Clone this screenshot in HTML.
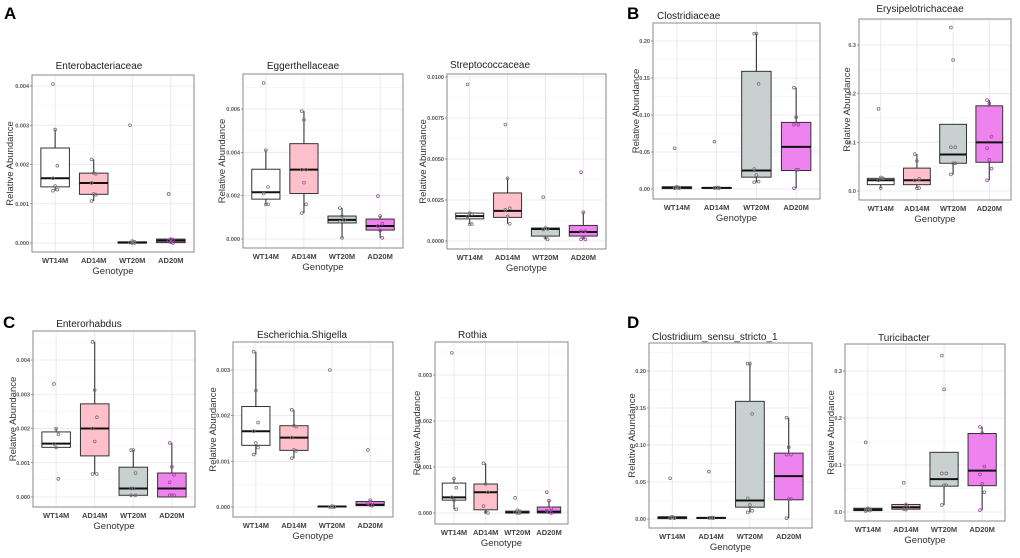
<!DOCTYPE html>
<html><head><meta charset="utf-8">
<style>
html,body{margin:0;padding:0;background:#fff;}
svg{display:block;font-family:"Liberation Sans",Arial,sans-serif;}
</style></head>
<body>
<svg id="fig" width="1020" height="558" viewBox="0 0 1020 558" xmlns="http://www.w3.org/2000/svg">
<text x="4" y="19" font-size="17" font-weight="bold">A</text>
<text x="627" y="19" font-size="17" font-weight="bold">B</text>
<text x="3" y="328" font-size="17" font-weight="bold">C</text>
<text x="627" y="328" font-size="17" font-weight="bold">D</text>
</svg>
<script>
const categories = ["WT14M","AD14M","WT20M","AD20M"];
const fills = ["#ffffff","#ffc0cb","#c9d1d0","#ee82ee"];

// each box: [lowWhisker, q1, median, q3, highWhisker]
const enteroBox = [[0.00133,0.00143,0.00165,0.00242,0.00289],[0.00107,0.00124,0.00153,0.00178,0.00213],[0,0,0.00001,0.00003,0.00006],[0,0.00001,0.00006,0.0001,0.0001]];
const enteroPts = [[0.00405,0.00289,0.00197,0.00165,0.00145,0.00136,0.00133],[0.00213,0.00178,0.00176,0.00153,0.00125,0.00123,0.00107],[0.003,0.00005,0.00003,0.00001,0,0],[0.00125,0.0001,0.00008,0.00006,0.00002,0]];
const enteroTicks = ["0.000","0.001","0.002","0.003","0.004"];
const enteroTickVals = [0,0.001,0.002,0.003,0.004];

const eggerBox = [[0.0016,0.00184,0.00216,0.00322,0.0041],[0.0012,0.0021,0.0032,0.0044,0.0059],[0.00005,0.00074,0.00088,0.00106,0.00143],[0.00005,0.00041,0.0006,0.00092,0.00106]];
const eggerPts = [[0.0072,0.0041,0.0024,0.0021,0.0016,0.0016],[0.0059,0.0055,0.0032,0.0032,0.0026,0.0016,0.0012],[0.00143,0.00106,0.00088,0.0008,0.00005],[0.00198,0.00106,0.0007,0.0006,0.0004,0.00005]];
const eggerTicks = ["0.000","0.002","0.004","0.006"];
const eggerTickVals = [0,0.002,0.004,0.006];

const streptoBox = [[0.00103,0.00135,0.00152,0.0017,0.0017],[0.00105,0.00144,0.00184,0.00293,0.00382],[0.0001,0.0003,0.00073,0.00079,0.00079],[0.0001,0.0003,0.00055,0.00095,0.00175]];
const streptoPts = [[0.00955,0.0017,0.00165,0.0015,0.00103,0.00103],[0.0071,0.00382,0.002,0.0019,0.0015,0.00105],[0.00267,0.00079,0.00075,0.0007,0.0002,0.0001],[0.0042,0.00175,0.0006,0.0006,0.0002,0.0001,0.0001]];
const streptoTicks = ["0.0000","0.0025","0.0050","0.0075","0.0100"];
const streptoTickVals = [0,0.0025,0.005,0.0075,0.01];

const clostBox = [[0,0.0005,0.002,0.003,0.003],[0.001,0.0012,0.0015,0.002,0.002],[0.009,0.016,0.025,0.159,0.21],[0.001,0.025,0.057,0.09,0.137]];
const clostPts = [[0.055,0.003,0.002,0.002,0.002,0.001,0.001],[0.064,0.002,0.002,0.0015,0.0015,0.001],[0.21,0.21,0.142,0.027,0.019,0.01,0.009],[0.137,0.097,0.087,0.087,0.026,0.026,0.001]];
const clostTicks = ["0.00","0.05","0.10","0.15","0.20"];
const clostTickVals = [0,0.05,0.1,0.15,0.2];

const erysBox = [[0.006,0.013,0.022,0.026,0.028],[0.006,0.013,0.022,0.047,0.076],[0.034,0.057,0.075,0.137,0.137],[0.022,0.059,0.1,0.175,0.187]];
const erysPts = [[0.169,0.028,0.026,0.022,0.006],[0.076,0.062,0.025,0.022,0.006,0.006],[0.336,0.269,0.09,0.09,0.057,0.057,0.034],[0.187,0.18,0.112,0.088,0.064,0.046,0.022]];
const erysTicks = ["0.0","0.1","0.2","0.3"];
const erysTickVals = [0,0.1,0.2,0.3];

const rhabBox = [[0.00145,0.00145,0.00156,0.0019,0.002],[0.00067,0.0012,0.002,0.00272,0.00453],[0.00003,0.00005,0.00025,0.00087,0.00137],[0,0,0.00025,0.0007,0.00158]];
const rhabPts = [[0.0033,0.002,0.00183,0.00155,0.00145,0.00053],[0.00453,0.00312,0.00233,0.002,0.00162,0.00067,0.00067],[0.00137,0.00137,0.0007,0.00025,0.00025,0.00005,0.00005],[0.00158,0.00088,0.00065,0.00043,0.00005,0.00005,0.00005]];
const rhabTicks = ["0.000","0.001","0.002","0.003","0.004"];
const rhabTickVals = [0,0.001,0.002,0.003,0.004];

const eschBox = [[0.00115,0.00135,0.00166,0.0022,0.0034],[0.00107,0.00124,0.00152,0.00178,0.00213],[0,0,0.00001,0.00002,0.00003],[0,0.00003,0.00005,0.00012,0.00015]];
const eschPts = [[0.0034,0.00255,0.00185,0.00166,0.0014,0.0013,0.00115],[0.00213,0.00178,0.00176,0.00152,0.00125,0.00123,0.00107],[0.003,0.00002,0.00001,0,0,0],[0.00125,0.00015,0.0001,0.00008,0.00005,0.00003]];
const eschTicks = ["0.000","0.001","0.002","0.003"];
const eschTickVals = [0,0.001,0.002,0.003];

const rothBox = [[0.00008,0.00028,0.00034,0.00065,0.00075],[0,0.00007,0.00045,0.00063,0.00108],[0,0,0.00001,0.00004,0.00006],[0,0,0.00003,0.00013,0.00027]];
const rothPts = [[0.00348,0.00075,0.00055,0.00034,0.00028,0.00008],[0.00108,0.00063,0.00045,0.00015,0.00002,0],[0.00033,0.00006,0.00004,0.00002,0,0],[0.00045,0.00027,0.0001,0.00005,0.00002,0]];
const rothTicks = ["0.000","0.001","0.002","0.003"];
const rothTickVals = [0,0.001,0.002,0.003];

const csBox = [[0,0.0005,0.002,0.003,0.003],[0.001,0.0012,0.0015,0.002,0.002],[0.009,0.016,0.025,0.159,0.21],[0.001,0.026,0.058,0.089,0.137]];
const csPts = [[0.055,0.003,0.002,0.002,0.002,0.001,0.001],[0.064,0.002,0.002,0.0015,0.0015,0.001],[0.21,0.21,0.142,0.028,0.019,0.011,0.009],[0.137,0.097,0.087,0.087,0.027,0.027,0.001]];
const csTicks = ["0.00","0.05","0.10","0.15","0.20"];
const csTickVals = [0,0.05,0.1,0.15,0.2];

const turiBox = [[0.002,0.003,0.005,0.008,0.008],[0.005,0.006,0.01,0.016,0.016],[0.015,0.055,0.07,0.127,0.127],[0.004,0.056,0.088,0.167,0.181]];
const turiPts = [[0.148,0.008,0.006,0.005,0.004,0.003,0.002],[0.062,0.016,0.01,0.006,0.005],[0.333,0.261,0.082,0.082,0.057,0.057,0.015],[0.181,0.168,0.097,0.08,0.06,0.042,0.004]];
const turiTicks = ["0.0","0.1","0.2","0.3"];
const turiTickVals = [0,0.1,0.2,0.3];

const plots = [
 {name:"enterobacteriaceae",title:"Enterobacteriaceae",box:enteroBox,pts:enteroPts,ticks:enteroTicks,tv:enteroTickVals,L:32,T:75,R:194,B:252,zp:243,rv:0.004,rp:86,tx:99,ty:69,ta:"middle",yl:10},
 {name:"eggerthellaceae",title:"Eggerthellaceae",box:eggerBox,pts:eggerPts,ticks:eggerTicks,tv:eggerTickVals,L:243,T:74,R:403,B:248,zp:239,rv:0.006,rp:109,tx:303,ty:69,ta:"middle",yl:222},
 {name:"streptococcaceae",title:"Streptococcaceae",box:streptoBox,pts:streptoPts,ticks:streptoTicks,tv:streptoTickVals,L:447,T:74,R:606,B:249,zp:241,rv:0.01,rp:77,tx:450,ty:68,ta:"start",yl:423},
 {name:"clostridiaceae",title:"Clostridiaceae",box:clostBox,pts:clostPts,ticks:clostTicks,tv:clostTickVals,L:653,T:23,R:820,B:199,zp:189,rv:0.2,rp:41,tx:657,ty:19,ta:"start",yl:636},
 {name:"erysipelotrichaceae",title:"Erysipelotrichaceae",box:erysBox,pts:erysPts,ticks:erysTicks,tv:erysTickVals,L:859,T:19,R:1011,B:200,zp:191,rv:0.3,rp:45,tx:920,ty:12,ta:"middle",yl:847},
 {name:"enterorhabdus",title:"Enterorhabdus",box:rhabBox,pts:rhabPts,ticks:rhabTicks,tv:rhabTickVals,L:33,T:331,R:195,B:507,zp:497,rv:0.004,rp:360,tx:89,ty:327,ta:"middle",yl:13},
 {name:"escherichia-shigella",title:"Escherichia.Shigella",box:eschBox,pts:eschPts,ticks:eschTicks,tv:eschTickVals,L:233,T:342,R:393,B:517,zp:507,rv:0.003,rp:370,tx:257,ty:338,ta:"start",yl:213},
 {name:"rothia",title:"Rothia",box:rothBox,pts:rothPts,ticks:rothTicks,tv:rothTickVals,L:435,T:342,R:568,B:524,zp:513,rv:0.003,rp:375,tx:458,ty:338,ta:"start",yl:417},
 {name:"clostridium-sensu-stricto-1",title:"Clostridium_sensu_stricto_1",box:csBox,pts:csPts,ticks:csTicks,tv:csTickVals,L:649,T:343,R:812,B:528,zp:519,rv:0.2,rp:371,tx:652,ty:340,ta:"start",yl:632},
 {name:"turicibacter",title:"Turicibacter",box:turiBox,pts:turiPts,ticks:turiTicks,tv:turiTickVals,L:845,T:344,R:1005,B:521,zp:512,rv:0.3,rp:371,tx:878,ty:341,ta:"start",yl:831}
];

const NS="http://www.w3.org/2000/svg";
const svg=document.getElementById("fig");
function mk(tag,attrs,parent){const e=document.createElementNS(NS,tag);for(const k in attrs)e.setAttribute(k,attrs[k]);(parent||svg).appendChild(e);return e;}

plots.forEach(p=>{
  const g=mk("g",{});
  
  
  const y=v=>p.zp-(v/p.rv)*(p.zp-p.rp);
  const unit=(p.R-p.L)/4.2;
  const x=i=>p.L+(0.6+i)*unit;
  // grid
  for(let i=0;i<p.tv.length;i++){
    const gy=y(p.tv[i]);
    const gl=mk("line",{x1:p.L,x2:p.R,y1:gy,y2:gy,stroke:"#e6e6e6","stroke-width":0.8},g);
    
    
    if(i<p.tv.length-1){const my=y((p.tv[i]+p.tv[i+1])/2);mk("line",{x1:p.L,x2:p.R,y1:my,y2:my,stroke:"#f2f2f2","stroke-width":0.6},g);}
    const hy=y(p.tv[p.tv.length-1]+(p.tv[1]-p.tv[0])/2);
    if(i==p.tv.length-1 && hy>p.T) mk("line",{x1:p.L,x2:p.R,y1:hy,y2:hy,stroke:"#f2f2f2","stroke-width":0.6},g);
    const t=mk("text",{x:p.L-3,y:gy+2,"font-size":5.5,"text-anchor":"end",fill:"#555","font-weight":"bold"},g);
    t.textContent=p.ticks[i];
    
    
    mk("line",{x1:p.L-2,x2:p.L,y1:gy,y2:gy,stroke:"#555","stroke-width":0.6},g);
  }
  categories.forEach((c,i)=>{mk("line",{x1:x(i),x2:x(i),y1:p.T,y2:p.B,stroke:"#e6e6e6","stroke-width":0.8},g);});
  // boxes
  categories.forEach((c,i)=>{
    const b=p.box[i],cx=x(i),hw=unit*0.37;
    const bg=mk("g",{},g);
    
    
    mk("line",{x1:cx,x2:cx,y1:y(b[0]),y2:y(b[1]),stroke:"#333","stroke-width":1.1},bg);
    mk("line",{x1:cx,x2:cx,y1:y(b[3]),y2:y(b[4]),stroke:"#333","stroke-width":1.1},bg);
    const top=y(b[3]),bot=y(b[1]);
    mk("rect",{x:cx-hw,y:top,width:2*hw,height:Math.max(bot-top,0.8),fill:fills[i],stroke:"#333","stroke-width":1},bg);
    mk("line",{x1:cx-hw,x2:cx+hw,y1:y(b[2]),y2:y(b[2]),stroke:"#111","stroke-width":2},bg);
    p.pts[i].forEach((v,j)=>{
      const dx=((j%3)-1)*2.2;
      const pt=mk("circle",{cx:cx+dx,cy:y(v),r:1.4,fill:"none",stroke:i==3?"#9a4a9a":"#777","stroke-width":0.8},bg);
      
      
    });
    const xl=mk("text",{x:cx,y:p.B+11,"font-size":7.5,"text-anchor":"middle",fill:"#444","font-weight":"bold"},g);
    xl.textContent=c;
    
    
  });
  const fr=mk("rect",{x:p.L,y:p.T,width:p.R-p.L,height:p.B-p.T,fill:"none",stroke:"#888","stroke-width":1},g);
  
  
  const tt=mk("text",{x:p.tx,y:p.ty,"font-size":10,"text-anchor":p.ta,fill:"#222"},g);
  tt.textContent=p.title;
  
  
  const xt=mk("text",{x:(p.L+p.R)/2,y:p.B+22,"font-size":9.5,"text-anchor":"middle",fill:"#333"},g);
  xt.textContent="Genotype";
  
  
  const cy=(p.T+p.B)/2;
  const yt=mk("text",{x:p.yl,y:cy,"font-size":9.5,"text-anchor":"middle",fill:"#333",transform:"rotate(-90 "+p.yl+" "+cy+")",dy:"3"},g);
  yt.textContent="Relative Abundance";
  
  
});
</script>
</body></html>
